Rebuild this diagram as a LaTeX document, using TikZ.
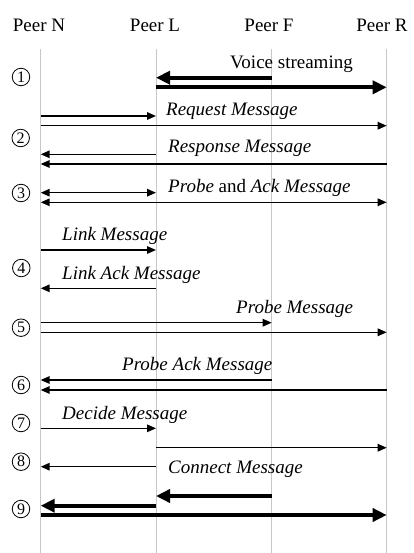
\documentclass[tikz,border=0pt]{standalone}
\usepackage{fontspec}
\setmainfont{Liberation Serif}
\usetikzlibrary{arrows.meta}

\begin{document}
\begin{tikzpicture}[x=1pt,y=-1pt,
  every node/.style={inner sep=0pt,font=\fontsize{19}{22}\selectfont},
  head/.style={anchor=base},
  lbl/.style={anchor=base west,font=\fontsize{19}{22}\selectfont\itshape},
  lifeline/.style={draw=black!22,line width=0.9pt},
  msg/.style={line width=1.5pt,-{Triangle[length=9pt,width=7.5pt]}},
  dmsg/.style={line width=1.5pt,{Triangle[length=9pt,width=7.5pt]}-{Triangle[length=9pt,width=7.5pt]}},
  stream/.style={line width=4pt,-{Triangle[length=14pt,width=13pt]}},
  stepnum/.style={circle,draw,line width=0.8pt,minimum size=17.5pt,
    font=\fontsize{16}{16}\selectfont}]

\useasboundingbox (0,0) rectangle (413,553);

% peers and their lifelines
\node[head] (hN) at (39,31.7) {Peer N};
\node[head] (hL) at (155,31.7) {Peer L};
\node[head] (hF) at (269,31.7) {Peer F};
\node[head] (hR) at (382,31.7) {Peer R};

\coordinate (lN) at (40.7,49);
\coordinate (lL) at (156,49);
\coordinate (lF) at (271.7,49);
\coordinate (lR) at (386.7,49);
\foreach \p in {lN,lL,lF,lR}
  \draw[lifeline] (\p) -- (\p |- 0,553);

% step numbers
\node[stepnum] (s1) at (21,77) {1};
\node[stepnum] (s2) at (20.7,138) {2};
\node[stepnum] (s3) at (21,193) {3};
\node[stepnum] (s4) at (21.3,268) {4};
\node[stepnum] (s5) at (21,327.7) {5};
\node[stepnum] (s6) at (21,385) {6};
\node[stepnum] (s7) at (21,423) {7};
\node[stepnum] (s8) at (21,461.7) {8};
\node[stepnum] (s9) at (21,509) {9};

% 1: voice streaming
\node[anchor=base west] (t1) at (230,69) {Voice streaming};
\draw[stream] (lF |- 0,77.7) -- (lL |- 0,77.7);
\draw[stream] (lL |- 0,87.3) -- (lR |- 0,87.3);

% 2: request / response
\node[lbl] (t2a) at (166,115.5) {Request Message};
\draw[msg] (lN |- 0,116) -- (lL |- 0,116);
\draw[msg] (lN |- 0,125.7) -- (lR |- 0,125.7);
\node[lbl] (t2b) at (168,153) {Response Message};
\draw[msg] (lL |- 0,154.3) -- (lN |- 0,154.3);
\draw[msg] (lR |- 0,164) -- (lN |- 0,164);

% 3: probe and ack
\node[anchor=base west] (t3) at (168,192.5) {\textit{Probe} and \textit{Ack Message}};
\draw[dmsg] (lN |- 0,192.7) -- (lL |- 0,192.7);
\draw[dmsg] (lN |- 0,202.3) -- (lR |- 0,202.3);

% 4: link / link ack
\node[lbl] (t4a) at (62,240.5) {Link Message};
\draw[msg] (lN |- 0,250) -- (lL |- 0,250);
\node[lbl] (t4b) at (62,279) {Link Ack Message};
\draw[msg] (lL |- 0,288.3) -- (lN |- 0,288.3);

% 5: probe
\node[lbl] (t5) at (236,313) {Probe Message};
\draw[msg] (lN |- 0,322.7) -- (lF |- 0,322.7);
\draw[msg] (lN |- 0,332.3) -- (lR |- 0,332.3);

% 6: probe ack
\node[lbl] (t6) at (122,370.5) {Probe Ack Message};
\draw[msg] (lF |- 0,380) -- (lN |- 0,380);
\draw[msg] (lR |- 0,390) -- (lN |- 0,390);

% 7: decide
\node[lbl] (t7) at (62,419) {Decide Message};
\draw[msg] (lN |- 0,428.3) -- (lL |- 0,428.3);

% 8: connect
\draw[msg] (lL |- 0,447.7) -- (lR |- 0,447.7);
\node[lbl] (t8) at (168,473) {Connect Message};
\draw[msg] (lL |- 0,466.7) -- (lN |- 0,466.7);

% 9: new streaming path
\draw[stream] (lF |- 0,496) -- (lL |- 0,496);
\draw[stream] (lL |- 0,505.7) -- (lN |- 0,505.7);
\draw[stream] (lN |- 0,515) -- (lR |- 0,515);

\end{tikzpicture}
\end{document}
